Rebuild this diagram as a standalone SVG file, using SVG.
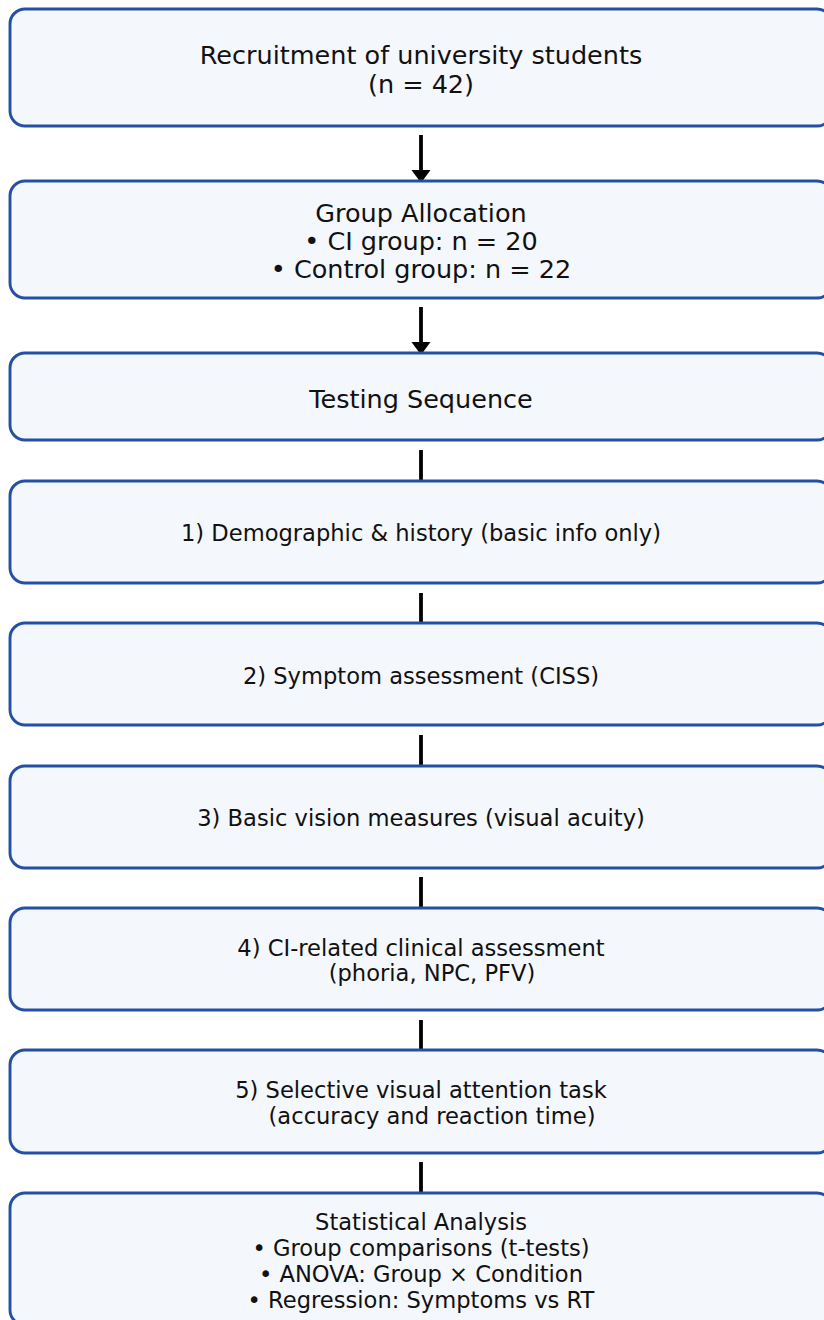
<svg xmlns="http://www.w3.org/2000/svg" width="824" height="1320" viewBox="0 0 824 1320">
<style>
.box{fill:#f4f7fc;stroke:#2350a3;stroke-width:2.9}
.t{font-family:"DejaVu Sans",sans-serif;fill:#111;text-anchor:middle}
.L{font-size:25.5px}
.S{font-size:22.6px}
.c{stroke:#000;stroke-width:3.8;fill:none}
.h{fill:#000;stroke:none}
</style>
<rect width="824" height="1320" fill="#fff"/>
<g id="connectors">
<line class="c" x1="421" y1="135" x2="421" y2="172"/>
<polygon class="h" points="411.5,170 430.5,170 421,183"/>
<line class="c" x1="421" y1="307" x2="421" y2="344"/>
<polygon class="h" points="411.5,342 430.5,342 421,355"/>
<line class="c" x1="421" y1="450" x2="421" y2="481"/>
<line class="c" x1="421" y1="593" x2="421" y2="623"/>
<line class="c" x1="421" y1="735" x2="421" y2="766"/>
<line class="c" x1="421" y1="877" x2="421" y2="908"/>
<line class="c" x1="421" y1="1020" x2="421" y2="1050"/>
<line class="c" x1="421" y1="1162" x2="421" y2="1193"/>
</g>
<g id="n1">
<rect class="box" x="10" y="9" width="822" height="117" rx="15"/>
<text class="t L" x="421" y="64">Recruitment of university students</text>
<text class="t L" x="421" y="93">(n = 42)</text>
</g>
<g id="n2">
<rect class="box" x="10" y="181" width="822" height="117" rx="15"/>
<text class="t L" x="421" y="222">Group Allocation</text>
<text class="t L" x="421" y="250">• CI group: n = 20</text>
<text class="t L" x="421" y="278">• Control group: n = 22</text>
</g>
<g id="n3">
<rect class="box" x="10" y="353" width="822" height="87" rx="15"/>
<text class="t L" x="421" y="408">Testing Sequence</text>
</g>
<g id="n4">
<rect class="box" x="10" y="481" width="822" height="102" rx="15"/>
<text class="t S" x="421" y="541">1) Demographic &amp; history (basic info only)</text>
</g>
<g id="n5">
<rect class="box" x="10" y="623" width="822" height="102" rx="15"/>
<text class="t S" x="421" y="684">2) Symptom assessment (CISS)</text>
</g>
<g id="n6">
<rect class="box" x="10" y="766" width="822" height="102" rx="15"/>
<text class="t S" x="421" y="826">3) Basic vision measures (visual acuity)</text>
</g>
<g id="n7">
<rect class="box" x="10" y="908" width="822" height="102" rx="15"/>
<text class="t S" x="421" y="956">4) CI-related clinical assessment</text>
<text class="t S" x="432" y="981">(phoria, NPC, PFV)</text>
</g>
<g id="n8">
<rect class="box" x="10" y="1050" width="822" height="103" rx="15"/>
<text class="t S" x="421" y="1098">5) Selective visual attention task</text>
<text class="t S" x="432" y="1124">(accuracy and reaction time)</text>
</g>
<g id="n9">
<rect class="box" x="10" y="1193" width="822" height="132" rx="15"/>
<text class="t S" x="421" y="1230">Statistical Analysis</text>
<text class="t S" x="421" y="1256">• Group comparisons (t-tests)</text>
<text class="t S" x="421" y="1282">• ANOVA: Group × Condition</text>
<text class="t S" x="421" y="1308">• Regression: Symptoms vs RT</text>
</g>
</svg>
